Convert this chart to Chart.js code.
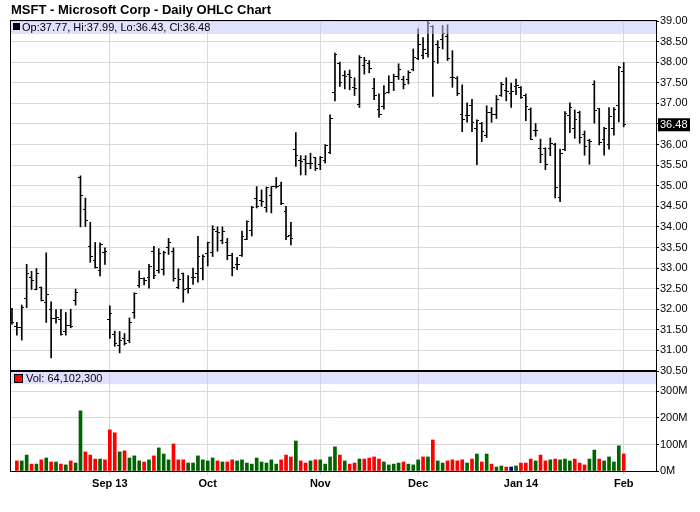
<!DOCTYPE html>
<html>
<head>
<meta charset="utf-8">
<script src="https://cdn.jsdelivr.net/npm/chart.js@4.4.1/dist/chart.umd.min.js"></script>
<style>
  html, body { margin: 0; padding: 0; background: #fff; }
  #wrap { position: relative; width: 700px; height: 512px; }
</style>
</head>
<body>
<div id="wrap"><canvas id="ohlcChart" width="700" height="512"></canvas></div>
<script>
// x axis: bar index of the first trading day of each month, and its label
const monthTicks = [20, 40, 63, 83, 104, 125];
const monthLabels = ['Sep 13', 'Oct', 'Nov', 'Dec', 'Jan 14', 'Feb'];
const volTicks = [0, 100, 200, 300];

// daily bars, Aug 5 2013 .. Feb 3 2014
const opens = [
  31.92, 31.57, 31.55, 32.25, 32.76, 32.48, 32.52, 32.16, 31.99, 31.78,
  31.76, 31.45, 31.61, 32.21, 35.20, 34.43, 33.53, 33.18, 32.93, 33.37,
  31.74, 31.39, 31.11, 31.29, 31.23, 31.91, 32.57, 32.74, 32.76, 33.40,
  32.93, 32.96, 33.50, 33.40, 32.54, 32.86, 32.50, 32.76, 32.88, 33.00,
  33.35, 33.38, 33.89, 33.67, 33.62, 33.31, 33.08, 33.31, 33.69, 33.91,
  34.68, 34.63, 34.48, 34.76, 34.97, 35.01, 34.38, 33.79, 35.89, 35.61,
  35.63, 35.53, 35.68, 35.51, 35.61, 35.81, 37.27, 37.96, 37.67, 37.71,
  37.39, 36.98, 37.93, 37.96, 37.36, 36.84, 36.93, 37.27, 37.51, 37.65,
  37.59, 37.59, 37.83, 38.08, 38.16, 38.20, 38.87, 38.42, 38.56, 38.63,
  37.63, 37.61, 36.72, 36.70, 36.96, 36.38, 36.50, 36.21, 36.78, 36.72,
  37.20, 37.31, 37.23, 37.41, 37.39, 37.19, 36.86, 36.33, 35.90, 35.90,
  35.90, 36.01, 34.71, 35.89, 36.70, 36.38, 36.78, 36.25, 36.09, 37.45,
  36.87, 36.12, 35.99, 36.38, 36.96, 37.77
];
const highs = [
  32.02, 31.68, 32.10, 33.09, 32.92, 32.99, 32.54, 33.37, 32.18, 31.99,
  32.00, 31.92, 32.00, 32.49, 35.24, 34.70, 34.11, 33.62, 33.61, 33.49,
  32.08, 31.47, 31.46, 31.41, 31.79, 32.40, 32.93, 32.76, 33.09, 33.53,
  33.47, 33.41, 33.72, 33.49, 32.98, 32.88, 32.82, 33.00, 33.77, 33.32,
  33.63, 34.03, 34.00, 34.00, 33.72, 33.36, 33.26, 33.90, 34.15, 34.50,
  34.98, 34.90, 34.97, 34.98, 35.20, 35.09, 34.50, 34.11, 36.29, 35.73,
  35.73, 35.79, 35.69, 35.71, 36.00, 36.72, 38.22, 38.00, 37.79, 37.81,
  37.62, 38.16, 38.12, 38.04, 37.61, 37.23, 37.43, 37.67, 37.71, 37.96,
  37.66, 37.79, 38.32, 38.81, 38.60, 38.99, 38.89, 38.52, 38.89, 38.91,
  38.28, 37.65, 37.45, 37.01, 37.10, 36.60, 36.54, 36.94, 36.90, 37.19,
  37.51, 37.62, 37.49, 37.59, 37.41, 37.23, 36.89, 36.51, 36.13, 35.92,
  36.16, 36.03, 35.89, 36.80, 37.01, 36.84, 36.81, 36.33, 36.13, 37.55,
  36.88, 36.42, 36.90, 36.90, 37.90, 37.99
];
const lows = [
  31.64, 31.37, 31.25, 32.04, 32.48, 32.47, 32.20, 31.68, 30.82, 31.66,
  31.37, 31.37, 31.55, 32.10, 34.00, 34.01, 33.14, 33.00, 32.81, 33.09,
  31.29, 31.10, 30.94, 31.13, 31.19, 31.78, 32.53, 32.59, 32.51, 32.74,
  32.88, 32.83, 33.33, 32.68, 32.50, 32.17, 32.39, 32.60, 32.66, 32.71,
  33.05, 33.28, 33.41, 33.59, 33.20, 32.81, 32.96, 33.28, 33.69, 33.78,
  34.46, 34.50, 34.36, 34.34, 34.94, 34.54, 33.69, 33.56, 35.47, 35.26,
  35.26, 35.41, 35.37, 35.39, 35.55, 35.78, 37.06, 37.41, 37.35, 37.33,
  37.19, 36.90, 37.71, 37.74, 37.09, 36.66, 36.86, 37.25, 37.31, 37.58,
  37.35, 37.47, 37.79, 38.06, 38.08, 38.12, 37.17, 37.97, 38.32, 38.04,
  37.39, 37.19, 36.31, 36.54, 36.31, 35.51, 36.07, 36.17, 36.54, 36.63,
  37.17, 37.06, 36.90, 37.21, 37.12, 36.58, 36.12, 36.20, 35.56, 35.39,
  35.73, 34.70, 34.61, 35.85, 36.29, 36.15, 36.03, 35.74, 35.52, 36.52,
  35.99, 35.74, 35.89, 36.23, 36.55, 36.43
];
const closes = [
  31.69, 31.56, 32.05, 32.88, 32.71, 32.88, 32.21, 32.35, 31.78, 31.80,
  31.39, 31.61, 31.58, 32.40, 34.77, 34.15, 33.28, 33.02, 33.57, 33.40,
  31.89, 31.17, 31.23, 31.16, 31.68, 32.39, 32.74, 32.70, 33.04, 32.82,
  33.35, 33.37, 33.62, 32.74, 32.73, 32.47, 32.51, 32.77, 33.28, 33.29,
  33.61, 33.93, 33.86, 33.88, 33.30, 33.02, 33.08, 33.77, 34.13, 34.48,
  34.49, 34.62, 34.96, 34.97, 34.99, 34.56, 33.76, 33.72, 35.73, 35.59,
  35.53, 35.55, 35.42, 35.69, 35.97, 36.64, 38.18, 37.51, 37.65, 37.63,
  37.36, 38.12, 38.04, 37.85, 37.20, 36.74, 37.23, 37.51, 37.66, 37.83,
  37.45, 37.74, 38.12, 38.44, 38.32, 38.95, 38.01, 38.36, 38.69, 38.08,
  37.62, 37.23, 36.62, 36.70, 36.54, 36.58, 36.31, 36.78, 36.74, 37.09,
  37.45, 37.29, 37.29, 37.43, 37.15, 36.93, 36.13, 36.33, 35.77, 35.52,
  36.03, 34.96, 35.79, 36.76, 36.89, 36.60, 36.17, 35.95, 36.07, 36.82,
  36.05, 36.38, 36.68, 36.86, 37.86, 36.48
];
// volume, millions of shares
const volumes = [
  null, 38, 38, 60, 26, 26, 42, 49, 34, 34,
  26, 23, 38, 30, 227, 72, 60, 45, 45, 42,
  155, 144, 72, 76, 49, 57, 38, 34, 42, 57,
  87, 64, 42, 102, 42, 42, 30, 30, 57, 42,
  38, 49, 38, 34, 34, 42, 38, 42, 30, 26,
  49, 34, 30, 42, 26, 42, 60, 53, 113, 38,
  30, 38, 42, 42, 26, 53, 91, 60, 38, 26,
  30, 45, 45, 49, 53, 45, 34, 23, 26, 30,
  34, 26, 23, 42, 53, 53, 117, 38, 30, 38,
  42, 38, 42, 30, 45, 64, 34, 64, 26, 15,
  19, 15, 15, 19, 30, 30, 45, 38, 60, 38,
  42, 45, 42, 45, 38, 45, 30, 23, 45, 79,
  45, 38, 53, 34, 95, 64.1023
];

const last = closes.length - 1;
const lastClose = closes[last];

const volColors = closes.map((c, i) => {
  if (i === 0) return '#ff0000';
  if (c > closes[i - 1]) return '#006400';
  if (c < closes[i - 1]) return '#ff0000';
  return '#000080';
});

function tickMark(side) {
  const c = document.createElement('canvas');
  c.width = 5;
  c.height = 1;
  const g = c.getContext('2d');
  g.fillStyle = '#000';
  g.fillRect(side < 0 ? 0 : 3, 0, 2, 1);
  return c;
}

const gridColor = '#d9d9d9';
const band = 'rgba(196,196,255,0.53)';

const panelDecor = {
  id: 'panelDecor',
  afterDatasetsDraw(chart) {
    const {ctx, chartArea: a, scales} = chart;
    const py = scales.price, vy = scales.vol;
    const w = a.right - a.left;
    ctx.save();
    ctx.fillStyle = band;
    ctx.fillRect(a.left, py.top, w, 13);
    ctx.fillRect(a.left, vy.top, w, 13);

    ctx.strokeStyle = '#000';
    ctx.lineWidth = 1;
    ctx.strokeRect(a.left - 0.5, a.top - 0.5, w + 1, a.bottom - a.top + 1);
    ctx.lineWidth = 2;
    ctx.beginPath();
    ctx.moveTo(a.left, py.bottom);
    ctx.lineTo(a.right, py.bottom);
    ctx.stroke();

    // legends
    ctx.font = '11px "Liberation Sans", Arial, sans-serif';
    ctx.textBaseline = 'middle';
    ctx.fillStyle = '#000';
    ctx.fillRect(a.left + 2, py.top + 2, 7, 7);
    ctx.fillText('Op:' + opens[last].toFixed(2) + ', Hi:' + highs[last].toFixed(2) +
      ', Lo:' + lows[last].toFixed(2) + ', Cl:' + lastClose.toFixed(2), a.left + 11, py.top + 6.5);
    ctx.fillStyle = '#ff0000';
    ctx.fillRect(a.left + 4, vy.top + 4, 7, 7);
    ctx.lineWidth = 1;
    ctx.strokeRect(a.left + 3.5, vy.top + 3.5, 8, 8);
    ctx.fillStyle = '#000';
    ctx.fillText('Vol: ' + Math.round(volumes[last] * 1e6).toLocaleString('en-US'), a.left + 15, vy.top + 8);

    // last close marker on price axis
    const yc = py.getPixelForValue(lastClose);
    ctx.fillStyle = '#000';
    ctx.fillRect(a.right + 2, yc - 6.5, 32, 13);
    ctx.fillStyle = '#fff';
    ctx.textAlign = 'left';
    ctx.fillText(lastClose.toFixed(2), a.right + 4, yc + 0.5);
    ctx.restore();
  }
};

Chart.defaults.font.family = '"Liberation Sans", Arial, sans-serif';
Chart.defaults.font.size = 11;
Chart.defaults.color = '#000';

new Chart(document.getElementById('ohlcChart'), {
  type: 'bar',
  data: {
    datasets: [
      {
        type: 'line',
        yAxisID: 'price',
        data: opens.map((v, i) => ({x: i, y: v})),
        showLine: false,
        pointStyle: tickMark(-1),
        pointRadius: 2
      },
      {
        type: 'line',
        yAxisID: 'price',
        data: closes.map((v, i) => ({x: i, y: v})),
        showLine: false,
        pointStyle: tickMark(1),
        pointRadius: 2
      },
      {
        yAxisID: 'price',
        data: lows.map((v, i) => ({x: i, y: [v, highs[i]]})),
        backgroundColor: '#000',
        barThickness: 1,
        grouped: false
      },
      {
        yAxisID: 'vol',
        data: volumes.map((v, i) => ({x: i, y: v})),
        backgroundColor: volColors,
        barThickness: 3,
        grouped: false
      }
    ]
  },
  options: {
    responsive: false,
    animation: false,
    events: [],
    layout: { padding: { left: 11, right: 0, top: 0, bottom: 0 } },
    plugins: {
      legend: { display: false },
      tooltip: { enabled: false },
      title: {
        display: true,
        text: 'MSFT - Microsoft Corp - Daily OHLC Chart',
        align: 'start',
        color: '#000',
        font: { size: 13, weight: 'bold', lineHeight: 1.2 },
        padding: { top: 3, bottom: 2.4 }
      }
    },
    scales: {
      x: {
        type: 'linear',
        position: 'bottom',
        min: -0.2,
        max: 131.6,
        offset: false,
        afterBuildTicks: s => { s.ticks = monthTicks.map(v => ({value: v})); },
        afterFit: s => { s.height = 41; },
        ticks: {
          autoSkip: false,
          maxRotation: 0,
          padding: 2,
          font: { weight: 'bold' },
          callback: v => monthLabels[monthTicks.indexOf(v)]
        },
        grid: { color: gridColor, tickColor: gridColor, tickLength: 4, offset: false },
        border: { color: '#000' }
      },
      price: {
        type: 'linear',
        position: 'right',
        stack: 'panes',
        stackWeight: 3.5,
        min: 30.5,
        max: 39,
        afterFit: s => { s.width = 44; },
        ticks: {
          stepSize: 0.5,
          autoSkip: false,
          padding: 1,
          callback: v => Math.abs(v - lastClose) < 0.2 ? '' : v.toFixed(2)
        },
        grid: { color: gridColor, tickColor: '#000', tickLength: 3 },
        border: { color: '#000' }
      },
      vol: {
        type: 'linear',
        position: 'right',
        stack: 'panes',
        stackWeight: 1,
        min: 0,
        max: 377,
        afterFit: s => { s.width = 44; },
        afterBuildTicks: s => { s.ticks = volTicks.map(v => ({value: v})); },
        ticks: { autoSkip: false, padding: 1, callback: v => v + 'M' },
        grid: { color: gridColor, tickColor: '#000', tickLength: 3 },
        border: { color: '#000' }
      }
    }
  },
  plugins: [panelDecor]
});
</script>
</body>
</html>
